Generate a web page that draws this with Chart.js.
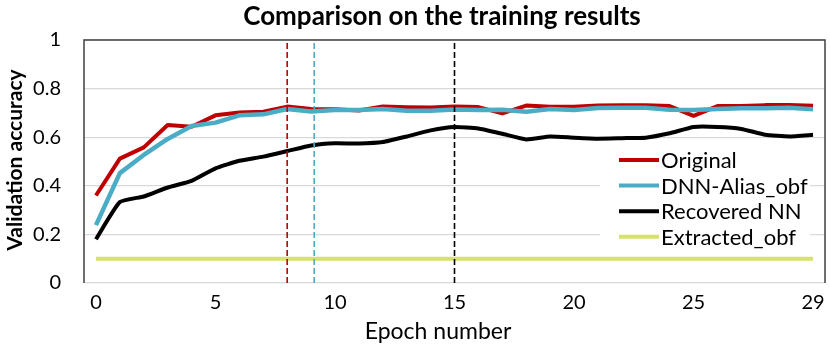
<!DOCTYPE html>
<html><head><meta charset="utf-8">
<script src="https://cdn.jsdelivr.net/npm/chart.js@4.4.0/dist/chart.umd.min.js"></script>
<style>html,body{margin:0;padding:0;background:#fff}#wrap{width:830px;height:347px;position:relative}</style>
</head><body><div id="wrap"><canvas id="c"></canvas></div>
<script>
const epochs = [0,1,2,3,4,5,6,7,8,9,10,11,12,13,14,15,16,17,18,19,20,21,22,23,24,25,26,27,28,29,30];
const original = [0.360,0.512,0.558,0.650,0.643,0.690,0.702,0.705,0.726,0.716,0.715,0.710,0.726,0.723,0.722,0.726,0.724,0.698,0.730,0.725,0.725,0.730,0.731,0.731,0.728,0.688,0.728,0.728,0.732,0.732,0.729];
const dnnAlias = [0.238,0.452,0.527,0.593,0.646,0.660,0.690,0.694,0.716,0.706,0.712,0.712,0.716,0.709,0.709,0.714,0.712,0.713,0.705,0.716,0.712,0.720,0.721,0.721,0.713,0.712,0.716,0.719,0.719,0.721,0.715];
const recovered = [0.180,0.333,0.356,0.393,0.420,0.472,0.503,0.520,0.543,0.566,0.575,0.574,0.580,0.603,0.628,0.642,0.636,0.614,0.591,0.603,0.598,0.594,0.596,0.598,0.616,0.642,0.642,0.634,0.610,0.603,0.610];
const extracted = [0.1,0.1,0.1,0.1,0.1,0.1,0.1,0.1,0.1,0.1,0.1,0.1,0.1,0.1,0.1,0.1,0.1,0.1,0.1,0.1,0.1,0.1,0.1,0.1,0.1,0.1,0.1,0.1,0.1,0.1,0.1];
const seriesNames = ["Original","DNN-Alias_obf","Recovered NN","Extracted_obf"];
const tickPositions = [0,5,10,15,20,25,30];
const tickLabels = ["0","5","10","15","20","25","29"];
const yTicks = [0,0.2,0.4,0.6,0.8,1];
const yTickLabels = ["0","0.2","0.4","0.6","0.8","1"];
const markerEpochs = [8, 9.13, 15];
const chartTitle = "Comparison on the training results";
const xTitle = "Epoch number";
const yTitle = "Validation accuracy";

const colors = ["#C00000","#4BACC6","#000000","#D6E26A"];
const markerColors = ["#C00000","#4BACC6","#000000"];
const FONT = "Lato";

function pts(arr){ return arr.map((v,i)=>({x:epochs[i], y:v})); }
function vline(x){ return [{x:x,y:0},{x:x,y:1}]; }

const series = [original, dnnAlias, recovered, extracted];
const datasets = series.map((arr,i)=>({
  label: seriesNames[i], data: pts(arr), borderColor: colors[i], backgroundColor: colors[i],
  borderWidth: i===1?4.5:4, pointRadius:0, fill:false, tension: i===2 ? 0.15 : 0,
  borderJoinStyle:'round',
  order: i===1?1:(i===0?2:3)
}));
markerEpochs.forEach((x,i)=>{
  datasets.push({label:"_marker"+i, data: vline(x), borderColor: markerColors[i], borderWidth:1.6,
    borderDash:[6,3], pointRadius:0, fill:false, order:0});
});

const frame = {
  id:'frame',
  beforeDatasetsDraw(chart){
    const {ctx, chartArea:a} = chart;
    ctx.save(); ctx.strokeStyle='#404040'; ctx.lineWidth=1.5;
    ctx.beginPath(); ctx.moveTo(a.left,a.bottom); ctx.lineTo(a.left,a.top); ctx.lineTo(a.right,a.top); ctx.lineTo(a.right,a.bottom); ctx.stroke();
    ctx.restore();
  }
};
const texts = {
  id:'texts',
  afterDraw(chart){
    const {ctx} = chart;
    ctx.save(); ctx.fillStyle='#000'; ctx.textAlign='center'; ctx.textBaseline='middle';
    ctx.font = "bold 26px "+FONT; ctx.fillText(chartTitle, 442, 17);
    ctx.font = "23px "+FONT; ctx.fillText(xTitle, 438, 332);
    ctx.translate(15,160); ctx.rotate(-Math.PI/2);
    ctx.font = "bold 21px "+FONT; ctx.fillText(yTitle, 0, 0);
    ctx.restore();
  }
};
const legendBox = {
  id:'legendBox',
  afterDatasetsDraw(chart){
    const {ctx} = chart;
    ctx.save();
    ctx.fillStyle='#fff'; ctx.fillRect(600,146,210,104);
    ctx.font = "22px "+FONT; ctx.textBaseline='middle'; ctx.textAlign='left';
    const y0 = 160, dy = 25.6;
    for(let i=0;i<4;i++){
      const y = y0+i*dy;
      ctx.strokeStyle=colors[i]; ctx.lineWidth=4; ctx.lineCap='butt';
      ctx.beginPath(); ctx.moveTo(619,y); ctx.lineTo(659,y); ctx.stroke();
      ctx.fillStyle='#000'; ctx.fillText(seriesNames[i], 661, y+1);
    }
    ctx.restore();
  }
};

new Chart(document.getElementById('c'), {
  type:'line',
  data:{datasets},
  options:{
    responsive:true, maintainAspectRatio:false, animation:false,
    layout:{padding:{left:0,right:5,top:40,bottom:0}},
    plugins:{ legend:{display:false}, tooltip:{enabled:false}, title:{display:false} },
    scales:{
      x:{type:'linear', min:-0.5, max:30.5,
        afterBuildTicks(s){ s.ticks = tickPositions.map(v=>({value:v})); },
        afterFit(s){ s.height = 64; s.paddingLeft = 0; s.paddingRight = 0; },
        grid:{display:false, drawTicks:false}, border:{display:false},
        ticks:{font:{family:FONT,size:20}, color:'#000', padding:8, maxRotation:0, autoSkip:false,
          callback(v){ const k = tickPositions.indexOf(v); return k>=0 ? tickLabels[k] : ''; }}
      },
      y:{type:'linear', min:0, max:1,
        afterBuildTicks(s){ s.ticks = yTicks.map(v=>({value:v})); },
        afterFit(s){ s.width = 84; s.paddingTop = 0; s.paddingBottom = 0; },
        grid:{color:'#D9D9D9', lineWidth:1.3, drawTicks:false}, border:{display:false},
        ticks:{font:{family:FONT,size:20}, color:'#000', padding:23,
          callback(v){ const k = yTicks.indexOf(v); return k>=0 ? yTickLabels[k] : ''; }}
      }
    }
  },
  plugins:[frame, legendBox, texts]
});
</script></body></html>
